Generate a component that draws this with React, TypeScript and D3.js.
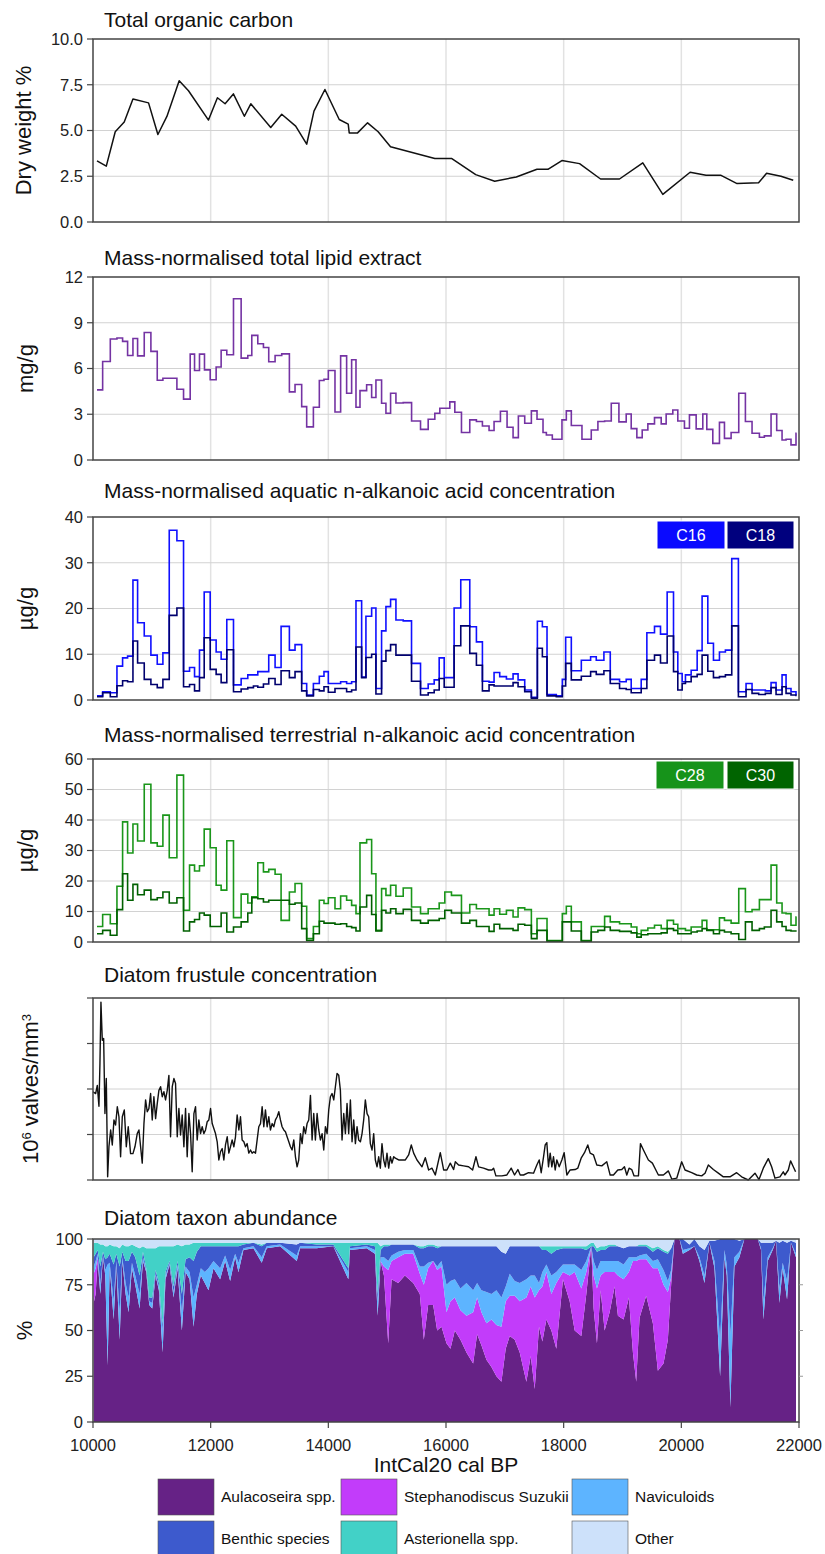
import React from "react";
import * as d3 from "d3";

const FONT = "'Liberation Sans', Arial, Helvetica, sans-serif";

// ---- x axis (shared by all panels)
const ageTicks = [10000, 12000, 14000, 16000, 18000, 20000, 22000];

// ---- Total organic carbon (dry weight %)
const tocAge = [10068, 10226, 10378, 10531, 10679, 10944, 11103, 11256, 11465, 11623, 11963, 12115, 12245, 12386, 12573, 12682, 13021, 13208, 13445, 13632, 13756, 13942, 14185, 14338, 14355, 14497, 14667, 14847, 15057, 15810, 16093, 16505, 16828, 17195, 17546, 17732, 17970, 18270, 18627, 18949, 19345, 19685, 20149, 20420, 20675, 20947, 21313, 21449, 21693, 21902];
const tocVal = [3.34, 3.05, 4.93, 5.46, 6.72, 6.51, 4.78, 5.77, 7.72, 7.17, 5.57, 6.79, 6.46, 7.0, 5.78, 6.46, 5.16, 5.89, 5.24, 4.25, 6.06, 7.24, 5.6, 5.35, 4.87, 4.87, 5.42, 4.93, 4.11, 3.47, 3.47, 2.59, 2.23, 2.46, 2.88, 2.88, 3.36, 3.19, 2.35, 2.35, 3.23, 1.51, 2.72, 2.55, 2.55, 2.1, 2.14, 2.66, 2.5, 2.28];

// ---- Total lipid extract (mg/g), step series: sample start ages
const lipidAge = [10068, 10164, 10294, 10407, 10503, 10588, 10679, 10758, 10871, 10984, 11092, 11188, 11426, 11539, 11652, 11726, 11810, 11895, 11992, 12093, 12178, 12274, 12388, 12518, 12631, 12699, 12801, 12897, 12987, 13095, 13208, 13338, 13434, 13547, 13632, 13746, 13847, 13926, 14000, 14113, 14209, 14311, 14396, 14470, 14538, 14651, 14736, 14809, 14905, 14979, 15058, 15149, 15273, 15415, 15567, 15697, 15810, 15895, 16065, 16150, 16263, 16404, 16517, 16619, 16732, 16817, 16925, 17038, 17140, 17230, 17338, 17451, 17547, 17649, 17706, 17807, 17971, 18045, 18130, 18311, 18469, 18582, 18696, 18809, 18939, 19063, 19148, 19244, 19335, 19431, 19544, 19658, 19742, 19855, 19940, 20053, 20138, 20252, 20365, 20433, 20535, 20648, 20733, 20846, 20976, 21089, 21202, 21327, 21411, 21525, 21621, 21712, 21780, 21864, 21949];
const lipidVal = [4.6, 6.46, 7.93, 8.0, 7.78, 6.85, 7.97, 6.83, 8.36, 7.12, 5.23, 5.36, 4.64, 3.99, 6.94, 5.87, 6.94, 5.91, 5.26, 6.1, 7.2, 6.9, 10.57, 6.68, 6.85, 8.17, 7.62, 7.38, 6.44, 6.85, 6.96, 4.47, 4.95, 3.5, 2.17, 3.46, 5.21, 5.3, 5.87, 3.15, 6.83, 4.38, 6.57, 3.46, 4.55, 4.93, 4.1, 5.25, 3.72, 3.07, 4.38, 3.74, 3.76, 2.56, 2.01, 2.67, 3.07, 3.39, 3.81, 3.13, 1.8, 2.63, 2.52, 2.23, 1.93, 2.52, 3.2, 2.15, 1.47, 2.89, 2.41, 3.22, 2.67, 1.8, 1.64, 1.36, 2.63, 3.22, 2.26, 1.36, 1.97, 2.52, 2.56, 3.72, 2.5, 3.02, 2.06, 1.47, 1.97, 2.37, 2.78, 2.37, 3.02, 3.28, 2.56, 2.08, 2.96, 2.04, 3.02, 2.01, 1.09, 2.47, 1.42, 1.8, 4.38, 2.52, 1.75, 1.49, 1.58, 3.02, 1.93, 1.31, 1.36, 0.99, 1.75];
const seriesEnd = 21960;

// ---- Aquatic n-alkanoic acids (µg/g)
const aqAge = [10068, 10164, 10294, 10407, 10503, 10588, 10679, 10758, 10871, 10984, 11092, 11188, 11296, 11426, 11539, 11641, 11726, 11810, 11890, 11992, 12093, 12178, 12274, 12388, 12518, 12631, 12727, 12801, 12897, 12987, 13095, 13197, 13338, 13434, 13547, 13632, 13746, 13847, 13926, 14000, 14113, 14209, 14311, 14396, 14470, 14566, 14639, 14736, 14809, 14905, 14979, 15058, 15149, 15273, 15414, 15567, 15697, 15799, 15884, 15969, 16138, 16251, 16404, 16517, 16619, 16732, 16817, 16913, 17027, 17140, 17225, 17338, 17451, 17553, 17638, 17717, 17875, 17977, 18034, 18130, 18300, 18458, 18554, 18684, 18792, 18950, 19063, 19148, 19318, 19414, 19544, 19646, 19759, 19867, 19940, 20014, 20070, 20167, 20269, 20353, 20450, 20546, 20648, 20749, 20857, 20970, 21100, 21202, 21315, 21428, 21525, 21610, 21712, 21780, 21864, 21949];
const c16 = [0.9, 1.8, 1.6, 7.4, 9.2, 9.6, 26.2, 16.9, 14.0, 9.8, 7.8, 10.3, 37.1, 34.8, 6.3, 7.1, 5.1, 10.9, 23.6, 13.1, 10.5, 8.9, 17.6, 3.3, 4.7, 5.5, 5.5, 6.2, 6.2, 9.8, 7.1, 16.1, 10.9, 12.1, 3.6, 1.1, 3.6, 5.2, 6.2, 3.6, 3.6, 4.0, 3.6, 4.0, 21.7, 5.0, 18.3, 20.1, 2.5, 15.1, 20.4, 22.0, 17.5, 17.3, 8.0, 2.5, 3.5, 4.4, 9.2, 4.9, 20.1, 26.3, 16.0, 12.7, 4.1, 3.9, 6.0, 5.1, 4.6, 5.7, 4.4, 2.2, 0.6, 17.2, 16.0, 1.2, 0.9, 4.5, 13.7, 6.4, 8.7, 9.45, 8.7, 10.5, 4.5, 4.0, 4.5, 2.5, 4.5, 14.7, 16.1, 14.4, 23.6, 10.5, 5.8, 4.0, 5.5, 6.5, 10.8, 22.7, 12.4, 8.7, 10.5, 10.9, 30.9, 1.8, 3.6, 2.2, 2.2, 2.0, 3.8, 2.2, 5.5, 2.5, 1.8, 1.2];
const c18 = [0.7, 1.6, 0.7, 3.1, 4.2, 4.0, 12.9, 8.1, 4.5, 3.4, 2.7, 4.5, 18.5, 20.1, 2.9, 3.4, 2.0, 4.9, 13.6, 6.7, 5.6, 3.8, 11.0, 1.8, 2.4, 2.7, 3.05, 2.8, 3.5, 4.7, 3.4, 6.4, 4.9, 6.2, 2.0, 0.9, 2.3, 2.0, 2.9, 1.7, 2.5, 2.5, 1.8, 2.2, 11.6, 4.9, 9.3, 10.0, 1.3, 8.5, 10.8, 12.1, 9.8, 9.8, 4.1, 1.1, 1.6, 2.2, 4.7, 2.8, 11.85, 16.2, 10.2, 7.6, 2.0, 3.3, 3.05, 3.05, 3.05, 3.8, 2.9, 1.8, 0.4, 11.3, 9.45, 0.9, 0.7, 3.05, 8.0, 4.4, 5.2, 6.2, 5.6, 6.4, 3.6, 2.5, 2.3, 1.6, 2.5, 8.7, 9.8, 8.1, 14.0, 6.2, 2.2, 3.6, 4.0, 5.1, 5.6, 9.8, 6.3, 4.9, 5.1, 5.5, 16.2, 0.7, 2.3, 1.45, 1.2, 1.45, 2.7, 1.2, 2.9, 1.45, 1.1, 1.0];

// ---- Terrestrial n-alkanoic acids (µg/g)
const terAge = [10068, 10164, 10294, 10407, 10503, 10588, 10679, 10758, 10871, 10984, 11092, 11188, 11296, 11426, 11539, 11641, 11726, 11810, 11890, 11992, 12093, 12178, 12274, 12388, 12518, 12631, 12699, 12801, 12897, 12987, 13095, 13197, 13338, 13434, 13547, 13632, 13746, 13847, 13926, 14000, 14113, 14209, 14311, 14396, 14470, 14538, 14651, 14736, 14809, 14905, 14979, 15058, 15149, 15273, 15414, 15567, 15697, 15884, 15980, 16093, 16263, 16404, 16517, 16732, 16817, 16913, 17027, 17140, 17225, 17338, 17451, 17547, 17717, 17977, 18045, 18130, 18300, 18469, 18582, 18696, 18792, 18950, 19148, 19244, 19318, 19431, 19544, 19658, 19759, 19867, 19940, 20070, 20167, 20269, 20353, 20433, 20546, 20648, 20733, 20846, 20976, 21089, 21202, 21327, 21411, 21525, 21621, 21712, 21780, 21864, 21949];
const c28 = [5.1, 9.0, 6.0, 18.3, 39.4, 29.2, 38.7, 33.1, 51.7, 32.5, 31.4, 41.6, 27.6, 54.7, 10.4, 25.2, 23.3, 25.0, 37.0, 30.9, 18.6, 17.0, 33.2, 8.0, 15.7, 12.8, 14.8, 26.0, 23.0, 23.8, 22.2, 7.1, 16.4, 19.2, 11.7, 1.1, 5.1, 13.7, 12.6, 14.5, 10.9, 15.1, 13.7, 12.0, 9.3, 32.5, 33.6, 22.4, 3.8, 17.5, 15.3, 18.6, 15.0, 17.7, 11.5, 9.3, 10.9, 12.8, 16.4, 15.3, 9.5, 12.3, 10.9, 8.8, 10.9, 9.1, 10.4, 8.2, 11.2, 10.6, 2.7, 7.7, 0.5, 9.3, 11.7, 6.6, 0.5, 5.1, 5.1, 8.4, 6.6, 6.0, 4.9, 2.7, 3.8, 4.6, 5.5, 4.4, 7.1, 5.8, 4.4, 3.8, 4.9, 4.9, 7.1, 4.0, 4.0, 7.9, 7.1, 6.2, 17.5, 9.9, 10.6, 13.9, 13.9, 25.2, 12.8, 9.5, 9.3, 5.5, 8.2];
const c30 = [2.7, 3.8, 2.2, 10.6, 22.4, 13.7, 18.9, 15.5, 17.0, 13.9, 14.5, 16.4, 12.8, 14.5, 3.6, 6.6, 7.4, 9.5, 8.8, 5.1, 5.1, 9.5, 3.3, 4.9, 6.6, 9.5, 14.5, 14.2, 13.1, 13.7, 13.7, 13.7, 12.4, 12.8, 4.4, 0.5, 2.7, 6.8, 6.2, 6.2, 5.8, 6.0, 5.1, 4.7, 3.6, 11.5, 15.3, 9.0, 3.6, 10.4, 9.5, 10.9, 9.3, 10.7, 7.1, 6.2, 7.1, 7.7, 10.4, 9.5, 6.2, 7.1, 5.1, 3.5, 5.8, 4.4, 4.4, 3.8, 5.8, 5.5, 1.1, 3.8, 0.3, 6.6, 6.6, 3.6, 0.3, 3.3, 3.8, 4.9, 3.8, 3.5, 3.0, 1.6, 2.4, 2.7, 2.7, 3.0, 4.4, 3.8, 2.7, 2.7, 3.3, 3.6, 4.4, 3.8, 2.7, 3.8, 3.3, 2.7, 0.8, 6.6, 3.8, 4.4, 4.9, 10.4, 6.6, 5.1, 3.8, 3.6, 3.6];

// ---- Diatom frustule concentration (10^6 valves/mm3)
const diaAge = [10000, 10045, 10073, 10101, 10118, 10135, 10158, 10181, 10203, 10226, 10249, 10271, 10300, 10328, 10356, 10384, 10413, 10441, 10469, 10498, 10532, 10566, 10599, 10639, 10679, 10713, 10752, 10781, 10809, 10837, 10866, 10894, 10922, 10950, 10979, 11007, 11035, 11064, 11092, 11120, 11149, 11177, 11205, 11233, 11262, 11290, 11318, 11347, 11375, 11403, 11432, 11460, 11488, 11516, 11545, 11573, 11601, 11630, 11658, 11686, 11715, 11743, 11771, 11799, 11828, 11856, 11884, 11913, 11941, 11969, 11998, 12026, 12082, 12111, 12139, 12167, 12196, 12224, 12252, 12281, 12309, 12337, 12365, 12394, 12422, 12450, 12479, 12507, 12535, 12564, 12592, 12620, 12648, 12677, 12705, 12733, 12762, 12790, 12818, 12847, 12875, 12903, 12931, 12960, 12988, 13016, 13045, 13073, 13101, 13130, 13158, 13186, 13214, 13243, 13271, 13299, 13328, 13356, 13384, 13413, 13441, 13469, 13497, 13526, 13554, 13582, 13611, 13639, 13667, 13696, 13724, 13752, 13780, 13809, 13837, 13865, 13894, 13922, 13950, 13979, 14007, 14035, 14063, 14092, 14120, 14148, 14177, 14205, 14233, 14262, 14290, 14318, 14346, 14375, 14403, 14431, 14460, 14488, 14516, 14545, 14573, 14601, 14629, 14658, 14686, 14714, 14743, 14771, 14799, 14828, 14856, 14884, 14912, 14941, 14969, 14997, 15026, 15054, 15082, 15111, 15139, 15195, 15252, 15309, 15365, 15410, 15450, 15507, 15592, 15648, 15705, 15761, 15818, 15903, 15960, 16016, 16073, 16129, 16158, 16214, 16299, 16384, 16452, 16509, 16554, 16639, 16724, 16780, 16809, 16848, 16950, 17035, 17108, 17165, 17222, 17261, 17318, 17403, 17488, 17544, 17584, 17618, 17658, 17686, 17714, 17742, 17771, 17799, 17827, 17856, 17884, 17924, 17969, 18008, 18054, 18110, 18195, 18240, 18297, 18354, 18410, 18450, 18507, 18563, 18648, 18733, 18790, 18846, 18920, 18988, 19033, 19073, 19112, 19157, 19197, 19271, 19305, 19356, 19440, 19508, 19582, 19610, 19695, 19780, 19837, 19922, 20006, 20063, 20176, 20261, 20346, 20403, 20459, 20544, 20629, 20714, 20827, 20940, 21025, 21138, 21252, 21320, 21393, 21478, 21535, 21591, 21676, 21733, 21761, 21818, 21857, 21903, 21942];
const diaVal = [1.94, 1.9, 2.08, 1.62, 2.56, 3.91, 3.07, 3.11, 1.46, 2.23, 0.07, 0.73, 1.1, 0.77, 1.32, 1.21, 1.61, 1.39, 0.51, 1.39, 1.54, 0.73, 1.17, 0.58, 0.58, 0.73, 1.02, 1.1, 0.73, 0.37, 1.24, 1.76, 1.5, 1.57, 1.9, 1.32, 1.83, 1.35, 1.68, 1.97, 2.05, 1.83, 1.94, 1.76, 1.97, 2.3, 0.95, 2.05, 2.23, 2.12, 0.95, 1.57, 0.99, 1.43, 0.73, 1.57, 0.51, 1.46, 1.02, 0.18, 1.46, 1.61, 0.88, 1.32, 1.02, 1.17, 1.02, 1.1, 1.28, 1.32, 1.57, 1.24, 1.02, 0.84, 0.44, 0.62, 0.69, 0.44, 0.77, 0.95, 0.59, 0.73, 0.88, 0.73, 0.95, 1.43, 1.1, 1.39, 0.88, 0.84, 0.73, 0.8, 0.59, 0.66, 0.59, 0.62, 0.59, 0.88, 1.17, 1.24, 1.61, 1.17, 1.54, 1.17, 1.39, 1.1, 1.24, 1.17, 1.32, 1.39, 1.5, 1.32, 1.17, 1.1, 1.06, 0.95, 0.84, 0.73, 0.66, 0.88, 0.51, 0.29, 0.44, 1.02, 0.8, 1.17, 1.02, 1.24, 1.32, 1.86, 0.88, 1.46, 0.88, 1.46, 1.1, 0.88, 1.02, 0.66, 1.17, 1.02, 1.54, 1.83, 1.9, 1.76, 2.05, 2.34, 2.3, 1.97, 0.88, 1.46, 1.02, 1.68, 1.02, 1.76, 0.84, 1.32, 0.8, 1.17, 0.88, 0.84, 1.02, 1.32, 1.76, 1.46, 1.39, 0.8, 0.66, 1.02, 0.44, 0.29, 0.51, 0.26, 0.8, 0.44, 0.29, 0.59, 0.26, 0.51, 0.37, 0.51, 0.48, 0.44, 0.44, 0.44, 0.55, 0.77, 0.59, 0.44, 0.29, 0.49, 0.22, 0.26, 0.11, 0.6, 0.22, 0.22, 0.37, 0.23, 0.4, 0.33, 0.31, 0.29, 0.22, 0.51, 0.29, 0.26, 0.22, 0.22, 0.26, 0.09, 0.09, 0.11, 0.26, 0.11, 0.23, 0.11, 0.11, 0.16, 0.15, 0.33, 0.44, 0.16, 0.51, 0.77, 0.82, 0.29, 0.59, 0.29, 0.51, 0.22, 0.44, 0.29, 0.44, 0.6, 0.11, 0.22, 0.23, 0.26, 0.48, 0.6, 0.77, 0.59, 0.55, 0.33, 0.31, 0.4, 0.11, 0.11, 0.22, 0.23, 0.29, 0.11, 0.26, 0.23, 0.09, 0.09, 0.8, 0.66, 0.44, 0.37, 0.18, 0.11, 0.11, 0.2, 0.02, 0.04, 0.4, 0.22, 0.16, 0.11, 0.09, 0.15, 0.33, 0.23, 0.15, 0.07, 0.07, 0.16, 0.07, 0.0, 0.15, 0.01, 0.26, 0.47, 0.29, 0.04, 0.07, 0.18, 0.11, 0.22, 0.42, 0.29, 0.18];

// ---- Diatom taxon abundance (%)
const taxa = ["Aulacoseira spp.", "Stephanodiscus Suzukii", "Naviculoids", "Benthic species", "Asterionella spp.", "Other"];
const taxaColors = ["#662286", "#c23cfa", "#5db4ff", "#3d5acd", "#42d1c7", "#cde1fa"];
const taxAge = [10011, 10045, 10079, 10124, 10170, 10209, 10249, 10283, 10351, 10396, 10453, 10498, 10554, 10605, 10662, 10718, 10792, 10849, 10905, 10956, 11007, 11064, 11120, 11183, 11233, 11301, 11369, 11437, 11511, 11573, 11641, 11709, 11765, 11833, 11901, 11963, 12048, 12161, 12246, 12331, 12416, 12473, 12557, 12727, 12868, 12953, 13180, 13463, 13519, 13802, 14085, 14340, 14368, 14651, 14792, 14838, 14888, 14945, 15018, 15075, 15188, 15301, 15443, 15555, 15623, 15697, 15782, 15850, 15923, 16008, 16076, 16150, 16246, 16348, 16461, 16529, 16602, 16687, 16772, 16857, 16942, 17015, 17083, 17168, 17253, 17366, 17440, 17508, 17581, 17638, 17706, 17791, 17875, 17988, 18102, 18187, 18300, 18385, 18469, 18509, 18566, 18628, 18696, 18781, 18866, 18922, 19018, 19109, 19177, 19233, 19290, 19403, 19516, 19601, 19697, 19771, 19827, 19884, 19969, 20026, 20138, 20223, 20308, 20393, 20478, 20563, 20659, 20733, 20772, 20834, 20902, 20987, 21072, 21299, 21355, 21395, 21468, 21553, 21610, 21667, 21723, 21797, 21864, 21949];
const aulacoseira = [65, 70, 88, 70, 90, 80, 31, 85, 56, 86, 45, 88, 70, 60, 84, 75, 62, 88, 82, 64, 62, 80, 72, 38, 78, 86, 68, 84, 50, 82, 78, 52, 70, 80, 76, 72, 84, 78, 88, 77, 90, 82, 94, 95, 87, 95, 96, 88, 95, 95, 96, 78, 94, 95, 92, 58, 88, 80, 43, 78, 76, 80, 76, 70, 45, 64, 64, 50, 52, 43, 40, 50, 45, 38, 32, 48, 42, 34, 30, 25, 22, 40, 47, 45, 38, 22, 36, 18, 52, 44, 56, 50, 40, 78, 66, 50, 47, 70, 96, 62, 43, 72, 50, 60, 74, 58, 56, 68, 38, 22, 57, 69, 54, 28, 32, 45, 75, 100, 100, 92, 94, 96, 88, 76, 98, 84, 25, 90, 80, 8, 85, 90, 100, 100, 94, 56, 88, 94, 99, 65, 84, 67, 98, 90];
const stephanodiscus = [16, 14, 2, 0, 0, 0, 0, 0, 0, 0, 0, 0, 0, 0, 0, 0, 0, 0, 0, 0, 0, 0, 0, 0, 0, 0, 0, 0, 0, 0, 0, 0, 0, 0, 0, 0, 0, 0, 0, 0, 0, 0, 0, 0, 0, 0, 0, 0, 0, 0, 0, 0, 0, 0, 0, 0, 0, 5, 40, 10, 14, 12, 16, 11, 30, 20, 24, 33, 33, 17, 26, 18, 16, 20, 28, 20, 18, 20, 26, 28, 30, 26, 22, 24, 28, 46, 38, 50, 20, 30, 26, 20, 36, 4, 14, 32, 26, 12, 0, 18, 30, 8, 32, 22, 8, 22, 22, 14, 50, 66, 32, 20, 30, 56, 43, 26, 4, 0, 0, 0, 0, 0, 0, 0, 0, 0, 0, 0, 0, 0, 0, 0, 0, 0, 0, 0, 0, 0, 0, 0, 0, 0, 0, 0];
const naviculoids = [4, 4, 2, 5, 1, 3, 55, 2, 10, 2, 15, 2, 6, 8, 3, 5, 8, 2, 1, 2, 3, 1, 2, 12, 2, 1, 3, 2, 10, 3, 4, 16, 5, 4, 6, 12, 4, 6, 3, 6, 2, 5, 1, 1, 3, 1, 1, 3, 1, 1, 0, 4, 1, 1, 2, 8, 2, 5, 5, 3, 3, 2, 2, 4, 10, 3, 0, 2, 3, 15, 11, 10, 12, 18, 12, 8, 12, 17, 14, 19, 16, 8, 12, 8, 10, 10, 6, 12, 4, 8, 4, 10, 6, 4, 6, 4, 10, 6, 0, 8, 10, 8, 6, 6, 6, 8, 8, 8, 2, 2, 2, 3, 4, 5, 8, 6, 4, 0, 0, 2, 1, 0, 2, 4, 0, 4, 20, 4, 6, 40, 5, 3, 0, 0, 1, 10, 2, 1, 0, 8, 3, 10, 0, 2];
const benthic = [5, 4, 2, 10, 2, 6, 4, 5, 20, 4, 25, 3, 12, 20, 6, 10, 10, 3, 1, 2, 3, 2, 2, 3, 2, 1, 3, 2, 10, 4, 8, 20, 18, 12, 14, 12, 8, 12, 5, 13, 4, 9, 2, 2, 6, 2, 1, 6, 2, 1, 1, 2, 1, 1, 2, 4, 4, 6, 8, 6, 4, 3, 3, 10, 10, 9, 8, 10, 8, 21, 19, 18, 23, 20, 24, 20, 24, 25, 26, 24, 25, 18, 15, 19, 20, 18, 16, 16, 20, 12, 8, 12, 12, 9, 9, 9, 12, 6, 0, 8, 10, 6, 6, 8, 8, 8, 9, 6, 6, 6, 5, 4, 5, 6, 10, 15, 12, 0, 0, 6, 2, 4, 6, 14, 1, 11, 55, 6, 14, 52, 10, 6, 0, 0, 3, 32, 8, 3, 0, 25, 12, 21, 1, 6];
const asterionella = [8, 6, 4, 12, 4, 7, 6, 5, 10, 4, 10, 4, 8, 8, 4, 6, 15, 3, 11, 27, 27, 12, 20, 43, 14, 8, 22, 9, 26, 8, 7, 10, 5, 2, 2, 2, 2, 2, 2, 2, 2, 2, 1, 0, 1, 0, 0, 0, 0, 1, 1, 14, 2, 1, 2, 28, 2, 1, 1, 0, 0, 0, 0, 1, 1, 1, 1, 1, 0, 0, 0, 0, 0, 0, 0, 0, 0, 0, 0, 0, 0, 0, 0, 0, 0, 0, 0, 0, 0, 2, 2, 4, 2, 1, 1, 1, 1, 2, 2, 2, 2, 2, 2, 1, 1, 0, 0, 0, 0, 0, 1, 1, 2, 1, 1, 1, 0, 0, 0, 0, 0, 0, 0, 0, 0, 0, 0, 0, 0, 0, 0, 0, 0, 0, 0, 0, 0, 0, 0, 0, 0, 0, 0, 0];
const other = [2, 2, 2, 3, 3, 4, 4, 3, 4, 4, 5, 3, 4, 4, 3, 4, 5, 4, 5, 5, 5, 5, 4, 4, 4, 4, 4, 3, 4, 3, 3, 2, 2, 2, 2, 2, 2, 2, 2, 2, 2, 2, 2, 2, 3, 2, 2, 3, 2, 2, 2, 2, 2, 2, 2, 2, 4, 3, 3, 3, 3, 3, 3, 4, 4, 3, 3, 4, 4, 4, 4, 4, 4, 4, 4, 4, 4, 4, 4, 4, 7, 8, 4, 4, 4, 4, 4, 4, 4, 4, 4, 4, 4, 4, 4, 4, 4, 4, 2, 2, 5, 4, 4, 3, 3, 4, 5, 4, 4, 4, 3, 3, 5, 4, 6, 7, 5, 0, 0, 0, 3, 0, 4, 6, 1, 1, 0, 0, 0, 0, 0, 1, 0, 0, 2, 2, 2, 2, 1, 2, 1, 2, 1, 2];

// ---- layout
const W = 825;
const H = 1554;
const L = 93;
const R = 799;
const x = d3.scaleLinear().domain([10000, 22000]).range([L, R]);

type PanelSpec = {
  top: number;
  bottom: number;
  title: string;
  titleY: number;
  domain: [number, number];
  ticks: number[];
  fmt: (v: number) => string;
  labels?: boolean;
};

const fmt1 = d3.format(".1f");
const fmt0 = d3.format("d");

const P = {
  toc: { top: 39, bottom: 222, title: "Total organic carbon", titleY: 27, domain: [0, 10], ticks: [0, 2.5, 5, 7.5, 10], fmt: fmt1 } as PanelSpec,
  lipid: { top: 277, bottom: 460, title: "Mass-normalised total lipid extract", titleY: 265, domain: [0, 12], ticks: [0, 3, 6, 9, 12], fmt: fmt0 } as PanelSpec,
  aq: { top: 517, bottom: 700, title: "Mass-normalised aquatic n-alkanoic acid concentration", titleY: 498, domain: [0, 40], ticks: [0, 10, 20, 30, 40], fmt: fmt0 } as PanelSpec,
  ter: { top: 759, bottom: 942, title: "Mass-normalised terrestrial n-alkanoic acid concentration", titleY: 742, domain: [0, 60], ticks: [0, 10, 20, 30, 40, 50, 60], fmt: fmt0 } as PanelSpec,
  dia: { top: 998, bottom: 1180, title: "Diatom frustule concentration", titleY: 982, domain: [0, 4], ticks: [0, 1, 2, 3, 4], fmt: fmt0, labels: false } as PanelSpec,
  tax: { top: 1239, bottom: 1422, title: "Diatom taxon abundance", titleY: 1225, domain: [0, 100], ticks: [0, 25, 50, 75, 100], fmt: fmt0 } as PanelSpec,
};

const yScale = (p: PanelSpec) => d3.scaleLinear().domain(p.domain).range([p.bottom, p.top]);

const stepPath = (ages: number[], vals: number[], y: d3.ScaleLinear<number, number>) => {
  const pts: [number, number][] = ages.map((a, i) => [x(a), y(vals[i])]);
  pts.push([x(seriesEnd), y(vals[vals.length - 1])]);
  return d3.line().curve(d3.curveStepAfter)(pts) || "";
};

const linePath = (ages: number[], vals: number[], y: d3.ScaleLinear<number, number>) =>
  d3.line<number>().x((a) => x(a)).y((_, i) => y(vals[i]))(ages) || "";

const Frame = ({ p, grid = true, children }: { p: PanelSpec; grid?: boolean; children?: React.ReactNode }) => {
  const y = yScale(p);
  return (
    <g>
      <text x={104} y={p.titleY} fontSize={21} fill="#111">{p.title}</text>
      {grid && ageTicks.slice(1, -1).map((t) => (
        <line key={"v" + t} x1={x(t)} x2={x(t)} y1={p.top} y2={p.bottom} stroke="#e2e2e2" strokeWidth={1.5} />
      ))}
      {grid && p.ticks.slice(1, -1).map((t) => (
        <line key={"h" + t} x1={L} x2={R} y1={y(t)} y2={y(t)} stroke="#d2d2d2" strokeWidth={1} />
      ))}
      {children}
      <rect x={L} y={p.top} width={R - L} height={p.bottom - p.top} fill="none" stroke="#444" strokeWidth={1.5} />
      {p.ticks.map((t) => (
        <g key={"t" + t}>
          <line x1={L - 6} x2={L} y1={y(t)} y2={y(t)} stroke="#444" strokeWidth={1.2} />
          {p.labels !== false && (
            <text x={L - 10} y={y(t)} dy="0.35em" textAnchor="end" fontSize={16.5} fill="#222">{p.fmt(t)}</text>
          )}
        </g>
      ))}
    </g>
  );
};

const YTitle = ({ p, cx, children }: { p: PanelSpec; cx: number; children: React.ReactNode }) => (
  <text transform={`translate(${cx},${(p.top + p.bottom) / 2}) rotate(-90)`} textAnchor="middle" dy="0.35em" fontSize={22} fill="#111">
    {children}
  </text>
);

const Badge = ({ xr, y, w, label, color }: { xr: number; y: number; w: number; label: string; color: string }) => (
  <g>
    <rect x={xr} y={y} width={w} height={28} fill={color} stroke="#fff" strokeWidth={1} />
    <text x={xr + w / 2} y={y + 14} dy="0.36em" textAnchor="middle" fontSize={16} fill="#fff">{label}</text>
  </g>
);

export default function App() {
  const yToc = yScale(P.toc);
  const yLip = yScale(P.lipid);
  const yAq = yScale(P.aq);
  const yTer = yScale(P.ter);
  const yDia = yScale(P.dia);
  const yTax = yScale(P.tax);

  const taxCols = [aulacoseira, stephanodiscus, naviculoids, benthic, asterionella, other];
  const rows = taxAge.map((a, i) => {
    const r: Record<string, number> = { age: a };
    taxa.forEach((k, j) => (r[k] = taxCols[j][i]));
    return r;
  });
  const stacked = d3.stack<Record<string, number>>().keys(taxa)(rows);
  const area = d3
    .area<d3.SeriesPoint<Record<string, number>>>()
    .x((d) => x(d.data.age))
    .y0((d) => yTax(Math.min(100, d[0])))
    .y1((d) => yTax(Math.min(100, d[1])));

  // legend grid: 3 columns x 2 rows
  const legendX = [158, 341, 572];
  const legendY = [1479, 1521];
  const swW = 56;

  return (
    <svg width={W} height={H} style={{ position: "absolute", left: 0, top: 0, display: "block", background: "#fff" }} fontFamily={FONT}>
      <rect width={W} height={H} fill="#fff" />

      <Frame p={P.toc}>
        <path d={linePath(tocAge, tocVal, yToc)} fill="none" stroke="#111" strokeWidth={1.5} strokeLinejoin="round" />
      </Frame>
      <YTitle p={P.toc} cx={23}>Dry weight %</YTitle>

      <Frame p={P.lipid}>
        <path d={stepPath(lipidAge, lipidVal, yLip)} fill="none" stroke="#7433a3" strokeWidth={1.6} />
      </Frame>
      <YTitle p={P.lipid} cx={25}>mg/g</YTitle>

      <Frame p={P.aq}>
        <path d={stepPath(aqAge, c16, yAq)} fill="none" stroke="#1010ff" strokeWidth={1.6} />
        <path d={stepPath(aqAge, c18, yAq)} fill="none" stroke="#00006e" strokeWidth={1.6} />
      </Frame>
      <Badge xr={657} y={521} w={68} label="C16" color="#0a0aff" />
      <Badge xr={727} y={521} w={67} label="C18" color="#00007e" />
      <YTitle p={P.aq} cx={25}>µg/g</YTitle>

      <Frame p={P.ter}>
        <path d={stepPath(terAge, c28, yTer)} fill="none" stroke="#1a961a" strokeWidth={1.6} />
        <path d={stepPath(terAge, c30, yTer)} fill="none" stroke="#006000" strokeWidth={1.6} />
      </Frame>
      <Badge xr={656} y={761} w={68} label="C28" color="#16931a" />
      <Badge xr={727} y={761} w={67} label="C30" color="#006400" />
      <YTitle p={P.ter} cx={25}>µg/g</YTitle>

      <Frame p={P.dia}>
        <path d={linePath(diaAge, diaVal, yDia)} fill="none" stroke="#111" strokeWidth={1.4} strokeLinejoin="round" />
      </Frame>
      <YTitle p={P.dia} cx={30}>
        10<tspan dy="-7" fontSize={13}>6</tspan>
        <tspan dy="7"> valves/mm</tspan>
        <tspan dy="-7" fontSize={13}>3</tspan>
      </YTitle>

      <Frame p={P.tax} grid={false}>
        {stacked.map((s, i) => (
          <path key={taxa[i]} d={area(s) || ""} fill={taxaColors[i]} stroke="none" />
        ))}
      </Frame>
      {P.tax.ticks.slice(1, -1).map((t) => (
        <line key={"rt" + t} x1={R} x2={R + 4} y1={yTax(t)} y2={yTax(t)} stroke="#999" strokeWidth={1} />
      ))}
      <YTitle p={P.tax} cx={24}>%</YTitle>

      {/* x axis */}
      {ageTicks.map((t) => (
        <g key={"x" + t}>
          <line x1={x(t)} x2={x(t)} y1={P.tax.bottom} y2={P.tax.bottom + 6} stroke="#444" strokeWidth={1.2} />
          <text x={x(t)} y={1451} textAnchor="middle" fontSize={16.5} fill="#222">{t}</text>
        </g>
      ))}
      <text x={(L + R) / 2} y={1472} textAnchor="middle" fontSize={21} fill="#111">IntCal20 cal BP</text>

      {/* legend */}
      {taxa.map((k, i) => {
        const lx = legendX[i % 3];
        const ly = legendY[Math.floor(i / 3)];
        return (
          <g key={"lg" + k}>
            <rect x={lx} y={ly} width={swW} height={36} fill={taxaColors[i]} stroke="#555" strokeWidth={0.6} />
            <text x={lx + swW + 7} y={ly + 18} dy="0.35em" fontSize={15.5} fill="#111">{k}</text>
          </g>
        );
      })}
    </svg>
  );
}
